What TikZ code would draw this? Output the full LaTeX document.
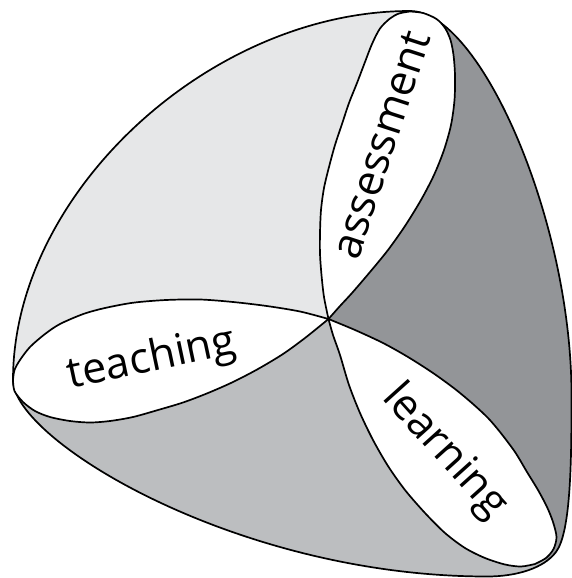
\documentclass[tikz,border=0pt]{standalone}
\usepackage{fontspec}
\setmainfont{Open Sans}
\definecolor{lightg}{RGB}{230,231,232}
\definecolor{midg}{RGB}{188,190,192}
\definecolor{darkg}{RGB}{147,149,152}
\begin{document}
\begin{tikzpicture}[x=1pt,y=-1pt,line join=round,
  edge/.style={draw=black,line width=1.7pt},
  lens/.style={fill=white,draw=black,line width=1.7pt},
  lbl/.style={font=\fontsize{43}{43}\selectfont,anchor=base,inner sep=0pt}]
\useasboundingbox (0,0) rectangle (572,578);
\coordinate (O) at (328.5,319);
\coordinate (A) at (410,11);
\coordinate (R) at (571.5,395);
\coordinate (C) at (556,552);
\coordinate (B) at (487,576.5);
\coordinate (T) at (13,380);
\coordinate (Tf) at (-302,441);
\coordinate (Af) at (491.5,-296);
\coordinate (Lf) at (761.5,801);
% shaded faces, clipped to the silhouette
\begin{scope}
\clip (A) .. controls (480,11) and (571.5,220) .. (R)
  .. controls (571.5,460) and (571,532) .. (C)
  .. controls (544,568) and (517,576.5) .. (B)
  .. controls (237,576.5) and (13,440) .. (T)
  .. controls (13,193) and (210,11) .. (A) -- cycle;
\fill[lightg] (O) -- (Tf) -- (-400,-400) -- (Af) -- cycle;
\fill[darkg] (O) -- (Af) -- (1000,-400) -- (1000,1000) -- (Lf) -- cycle;
\fill[midg] (O) -- (Lf) -- (-400,1000) -- (Tf) -- cycle;
\end{scope}
% silhouette
\draw[edge] (A) .. controls (480,11) and (571.5,220) .. (R)
  .. controls (571.5,460) and (571,532) .. (C)
  .. controls (544,568) and (517,576.5) .. (B)
  .. controls (237,576.5) and (13,440) .. (T)
  .. controls (13,193) and (210,11) .. (A) -- cycle;
% teaching lens
\draw[lens] plot[smooth] coordinates {(328.5,319) (300,311.5) (266.7,306) (233,302) (200,299.5) (166,300) (133.3,302.7) (105,308) (83.3,314) (60,324) (45,334) (30,347) (20,360) (14.5,370) (13,380)}
  -- plot[smooth] coordinates {(13,380) (14.5,391) (23,402) (35,411) (50,417) (70,421) (90,422.5) (110,421) (133,417) (158,410) (183,402.5) (208,393) (233,382) (258,369) (283,354) (305,338) (328.5,319)} -- cycle;
% assessment lens
\draw[lens] plot[smooth] coordinates {(328.5,319) (324,297) (321.5,275) (320,254) (320,233) (321,210) (324,188) (329,167) (335,145) (342,124) (349,103) (357,83) (365,62) (372,44) (380,28.5) (390,18.5) (399,13.5) (410,11.5)}
  -- plot[smooth] coordinates {(410,11.5) (423,13) (436.5,19) (445,28) (450.5,40) (453.5,55) (455,75) (454.5,100) (451,125) (444,150) (434,175) (421,200) (405,226) (388,250) (370,272) (352,293) (340,306) (328.5,319)} -- cycle;
% learning lens
\draw[lens] plot[smooth] coordinates {(328.5,319) (355,330) (383,343) (408,357) (433,373) (455,389) (473,404) (488,418) (500,432) (515,452) (527,472) (538,490) (547,507) (553,522) (556.5,537) (553.5,549) (546,558) (535,564)}
  -- plot[smooth] coordinates {(535,564) (521,566.5) (505,564.5) (485,558) (465,548) (445,533) (425,513) (405,490) (388,466) (373,440) (360,413) (349,385) (340,355) (333,335) (328.5,319)} -- cycle;
% labels
\node[lbl,rotate=12] (teach) at (154,371) {teaching};
\node[lbl,rotate=72] (assess) at (394.5,149.5) {assessment};
\node[lbl,rotate=-48] (learn) at (436,459) {learning};
\end{tikzpicture}
\end{document}
